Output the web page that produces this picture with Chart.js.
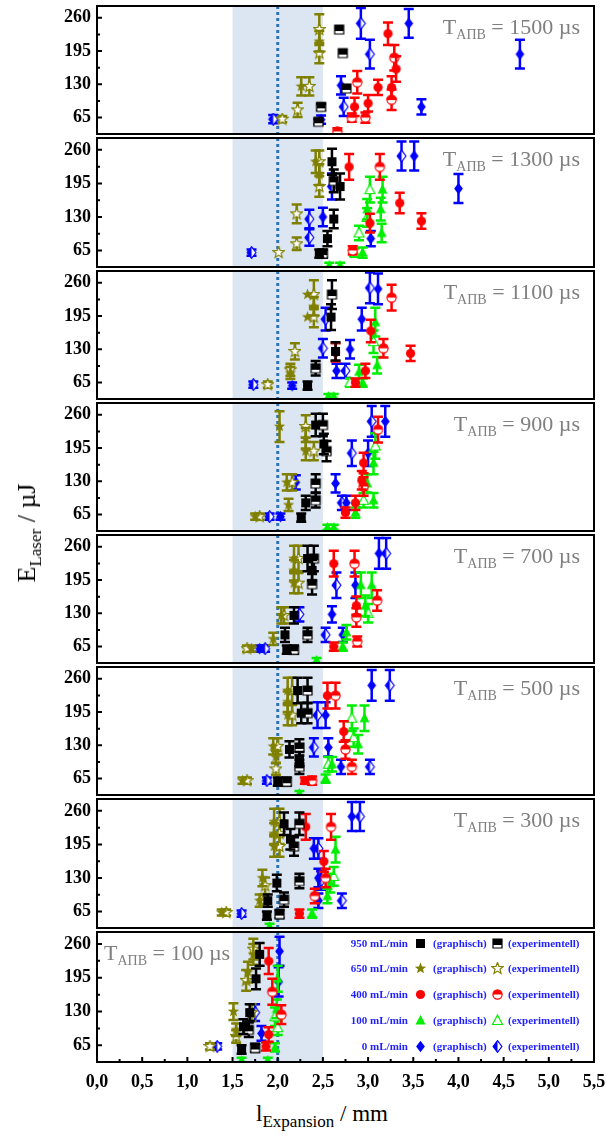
<!DOCTYPE html>
<html>
<head>
<meta charset="utf-8">
<script src="https://cdn.jsdelivr.net/npm/chart.js@4"></script>
<style>
  body { margin: 0; background: #fff; }
  #wrap { position: relative; width: 606px; height: 1142px; overflow: hidden; background: #fff; font-family: "Liberation Serif", serif; }
  canvas { position: absolute; left: 0; }
  .tlab { position: absolute; font-size: 22px; line-height: 24px; color: #7f7f7f; white-space: nowrap; }
  .tlab sub { font-size: 14px; vertical-align: -5px; line-height: 0; }
  .ttl { position: absolute; font-size: 23px; line-height: 26px; color: #000; white-space: nowrap; }
  .ttl sub { font-size: 17px; vertical-align: -6px; line-height: 0; }
  .leg { position: absolute; font-size: 11px; font-weight: bold; color: #1f1fff; white-space: nowrap; line-height: 14px; }
</style>
</head>
<body>
<div id="wrap"></div>
<script>
// points: [l_Expansion mm, E_Laser uJ, error uJ, experimentell?]
const q950_1500 = [[2.68,237,0,1],[2.72,191,0,1],[2.76,122,0,1],[2.48,86,6,1],[2.45,57,5,1]];
const q650_1500 = [[2.46,237,30,1],[2.46,214,20,0],[2.46,191,20,1],[2.26,126,18,0],[2.35,126,18,1],[2.22,80,14,1],[2.05,62,6,1]];
const q400_1500 = [[3.22,229,22,0],[3.29,182,25,1],[3.31,160,25,0],[3.26,124,22,0],[3.11,124,15,0],[3.00,93,16,0],[2.85,86,18,0],[2.88,134,22,1],[2.82,65,8,1],[2.97,65,10,1],[3.26,100,20,1],[2.66,38,6,1]];
const q100_1500 = [];
const q0_1500 = [[2.92,249,30,1],[3.02,189,28,1],[3.45,249,28,0],[4.68,189,28,0],[3.59,86,15,0],[2.70,128,18,0],[2.73,86,18,1],[2.48,61,8,0],[1.95,62,8,1]];

const q950_1300 = [[2.60,237,25,0],[2.69,189,25,0],[2.62,200,22,1],[2.62,126,18,0],[2.55,88,15,0],[2.46,59,8,0],[2.50,59,8,1]];
const q650_1300 = [[2.46,237,22,1],[2.42,237,22,0],[2.46,212,20,0],[2.46,189,20,1],[2.21,136,18,1],[2.21,78,12,1],[2.01,61,0,1]];
const q400_1300 = [[2.79,227,25,0],[3.13,227,25,1],[3.35,157,20,0],[3.59,122,15,0],[3.02,118,18,0],[2.83,65,8,1]];
const q100_1300 = [[3.02,183,25,1],[3.16,183,25,0],[2.99,145,20,0],[3.14,145,22,0],[2.99,129,18,1],[3.15,99,18,0],[2.90,99,14,1],[2.94,61,10,0],[2.85,61,8,1],[2.57,36,5,0],[2.69,36,5,0]];
const q0_1300 = [[1.71,61,6,1],[2.35,126,18,1],[2.50,130,18,0],[2.35,90,16,1],[2.60,189,25,1],[3.37,248,28,1],[3.51,248,28,0],[4.00,185,28,0],[3.03,88,15,0]];

const q950_1100 = [[2.60,237,28,1],[2.59,193,25,0],[2.64,126,18,0],[2.42,93,14,1],[2.33,59,8,0]];
const q650_1100 = [[2.40,237,28,1],[2.33,237,0,0],[2.40,214,18,0],[2.40,193,20,1],[2.33,193,0,0],[2.19,126,16,1],[2.14,84,12,0],[2.14,90,12,1],[1.89,61,6,1]];
const q400_1100 = [[3.26,231,25,1],[3.03,166,22,0],[3.17,132,18,1],[3.47,122,15,0],[2.97,88,14,0],[2.86,65,8,0],[2.64,124,18,0]];
const q100_1100 = [[3.08,183,28,0],[3.06,145,22,1],[3.10,99,16,0],[2.90,86,14,0],[2.80,65,8,1],[2.94,65,8,0],[2.56,38,5,0],[2.62,38,5,0]];
const q0_1100 = [[1.73,61,6,1],[2.16,59,6,0],[2.53,189,22,1],[2.50,132,18,1],[2.65,88,14,0],[2.80,130,18,0],[2.75,88,14,1],[2.93,189,22,0],[3.02,250,30,1],[3.11,248,30,0]];

const q950_900 = [[2.42,240,22,0],[2.50,240,22,1],[2.51,203,20,0],[2.54,189,20,1],[2.42,126,18,1],[2.31,88,14,0],[2.42,93,14,1],[2.26,59,8,0]];
const q650_900 = [[2.02,237,30,0],[2.31,237,22,1],[2.31,214,20,0],[2.31,189,18,0],[2.40,189,18,1],[2.10,128,16,0],[2.16,128,16,1],[2.12,84,12,0],[1.80,61,6,1],[1.75,61,6,0]];
const q400_900 = [[3.11,231,25,1],[2.95,166,20,0],[2.93,132,18,0],[2.86,88,14,0],[2.75,69,10,0],[2.95,120,18,1]];
const q100_900 = [[3.08,199,25,1],[3.06,166,22,0],[2.99,126,18,0],[3.06,93,14,0],[2.95,93,14,1],[2.86,69,10,0],[2.55,40,5,0],[2.62,40,5,0]];
const q0_900 = [[1.91,61,6,1],[2.03,61,6,0],[2.20,128,14,0],[2.64,126,18,0],[2.71,88,14,1],[2.76,88,14,0],[2.82,185,25,1],[3.00,185,25,0],[3.04,247,30,1],[3.19,247,30,0]];

const q950_700 = [[2.33,237,25,0],[2.40,237,25,1],[2.38,214,20,0],[2.38,187,20,1],[2.18,126,16,0],[2.08,88,14,0],[2.33,88,14,1],[2.10,59,8,0],[2.18,59,8,1]];
const q650_700 = [[2.18,237,25,0],[2.23,237,25,1],[2.18,214,20,0],[2.23,189,20,1],[2.18,189,20,0],[2.04,126,16,0],[2.07,126,16,1],[1.95,80,12,0],[1.71,61,6,0],[1.66,61,6,1]];
const q400_700 = [[2.62,227,25,0],[2.85,227,25,1],[3.10,155,20,1],[2.87,145,18,0],[2.87,122,18,1],[2.62,65,8,0],[2.88,75,10,1]];
const q100_700 = [[2.92,185,25,0],[3.04,185,25,0],[2.97,145,20,0],[3.00,130,18,1],[2.76,93,14,0],[2.72,65,8,0],[2.43,38,5,0]];
const q0_700 = [[1.86,61,6,1],[1.80,61,6,0],[2.24,128,14,1],[2.60,128,16,0],[2.53,88,14,1],[2.72,88,14,0],[2.65,185,25,1],[2.86,185,25,0],[3.12,247,30,0],[3.20,247,30,1]];

const q950_500 = [[2.22,237,25,0],[2.33,237,25,1],[2.26,193,20,0],[2.33,193,20,1],[2.13,122,16,0],[2.24,126,16,1],[2.24,103,14,0],[2.24,88,14,1],[2.00,59,8,0],[2.10,59,8,1]];
const q650_500 = [[2.11,237,25,0],[2.16,237,25,1],[2.11,215,20,0],[2.11,189,20,0],[2.16,189,20,1],[1.95,128,16,0],[2.00,128,16,1],[1.98,107,12,0],[1.98,84,12,1],[1.66,61,6,1],[1.61,61,6,0]];
const q400_500 = [[2.55,227,25,0],[2.64,227,25,1],[2.73,157,20,0],[2.75,122,18,1],[2.82,88,14,1],[2.38,61,8,1],[2.30,61,6,0]];
const q100_500 = [[2.82,183,25,1],[2.96,183,25,0],[2.89,132,18,0],[2.84,145,18,1],[2.56,93,14,1],[2.60,93,14,0],[2.53,65,8,0],[2.24,36,5,0]];
const q0_500 = [[1.88,61,6,1],[2.40,126,18,1],[2.56,126,18,0],[2.44,189,25,1],[2.53,189,25,0],[2.70,88,14,0],[3.02,88,14,1],[3.04,247,30,0],[3.24,247,30,1]];

const q950_300 = [[2.07,235,22,0],[2.24,235,22,1],[2.14,205,20,0],[2.18,191,18,1],[1.99,120,16,0],[2.24,124,14,1],[1.89,86,12,0],[2.07,88,14,1],[1.88,57,8,0],[2.02,60,8,1]];
const q650_300 = [[1.96,239,25,0],[2.02,239,25,1],[1.96,216,20,0],[2.02,216,20,1],[1.96,191,20,0],[2.02,191,20,1],[1.83,130,16,0],[1.86,115,16,1],[1.80,86,12,0],[1.84,86,12,1],[1.43,63,6,1],[1.38,63,6,0]];
const q400_300 = [[2.31,229,25,0],[2.59,229,25,1],[2.51,162,20,0],[2.53,130,18,1],[2.41,95,14,1],[2.24,61,8,0]];
const q100_300 = [[2.64,185,25,0],[2.62,133,18,1],[2.58,120,18,0],[2.55,95,14,0],[2.38,61,8,0],[1.91,36,5,0]];
const q0_300 = [[1.60,61,6,1],[2.40,187,20,0],[2.45,187,20,1],[2.45,130,18,0],[2.48,125,18,1],[2.45,86,14,0],[2.71,86,14,1],[2.82,249,28,0],[2.91,249,28,1]];

const q950_100 = [[1.80,240,22,0],[1.76,193,20,0],[1.69,128,16,0],[1.62,101,14,0],[1.60,57,8,0],[1.75,60,8,1],[1.68,95,14,1]];
const q650_100 = [[1.73,250,20,1],[1.73,240,20,0],[1.67,206,20,0],[1.65,190,20,1],[1.51,130,16,0],[1.71,128,16,1],[1.54,82,12,1],[1.54,95,12,0],[1.25,63,6,1]];
const q400_100 = [[1.90,227,25,0],[1.94,168,25,1],[2.04,124,18,1],[1.90,86,14,0],[1.87,63,8,0]];
const q100_100 = [[2.00,193,25,0],[1.99,135,18,0],[2.00,99,14,1],[1.97,61,8,0],[1.89,36,5,0],[1.60,36,5,0],[1.97,120,18,1]];
const q0_100 = [[1.33,63,6,1],[2.02,246,28,0],[2.01,187,28,0],[1.75,128,16,1],[1.82,88,14,0]];

const pulseTimes = ['1500', '1300', '1100', '900', '700', '500', '300', '100'];
const flowRates = ['950 mL/min', '650 mL/min', '400 mL/min', '100 mL/min', '0 mL/min'];
const yTicks = [65, 130, 195, 260];
const xTicks = [0, 0.5, 1, 1.5, 2, 2.5, 3, 3.5, 4, 4.5, 5, 5.5];

const panelData = [
  [q950_1500, q650_1500, q400_1500, q100_1500, q0_1500],
  [q950_1300, q650_1300, q400_1300, q100_1300, q0_1300],
  [q950_1100, q650_1100, q400_1100, q100_1100, q0_1100],
  [q950_900, q650_900, q400_900, q100_900, q0_900],
  [q950_700, q650_700, q400_700, q100_700, q0_700],
  [q950_500, q650_500, q400_500, q100_500, q0_500],
  [q950_300, q650_300, q400_300, q100_300, q0_300],
  [q950_100, q650_100, q400_100, q100_100, q0_100]
];

const colors = ['#000000', '#808000', '#ff0000', '#00ee00', '#0000ff'];
const shapes = ['rect', 'star', 'circle', 'triangle', 'diamond'];

function shapePath(g, shape) {
  g.beginPath();
  if (shape == 'rect') {
    g.rect(-4.5, -4.5, 9, 9);
  } else if (shape == 'circle') {
    g.arc(0, 0, 4.6, 0, Math.PI * 2);
  } else if (shape == 'triangle') {
    g.moveTo(0, -5.5); g.lineTo(5, 4); g.lineTo(-5, 4); g.closePath();
  } else if (shape == 'diamond') {
    g.moveTo(0, -5.8); g.lineTo(4.4, 0); g.lineTo(0, 5.8); g.lineTo(-4.4, 0); g.closePath();
  } else {
    for (let i = 0; i < 10; i++) {
      let r = i % 2 ? 2.6 : 6;
      let a = -Math.PI / 2 + i * Math.PI / 5;
      if (i == 0) g.moveTo(r * Math.cos(a), r * Math.sin(a));
      else g.lineTo(r * Math.cos(a), r * Math.sin(a));
    }
    g.closePath();
  }
}

function makeMarker(shape, color, hollow) {
  const c = document.createElement('canvas');
  c.width = 13; c.height = 13;
  const g = c.getContext('2d');
  g.translate(6.5, 6.5);
  g.lineWidth = 1.2;
  g.strokeStyle = color;
  g.fillStyle = color;
  shapePath(g, shape);
  if (!hollow) {
    g.fill();
  } else {
    g.fillStyle = '#fff';
    g.fill();
    g.save();
    g.clip();
    g.fillStyle = color;
    if (shape == 'rect') g.fillRect(-7, -7, 14, 8.5);
    if (shape == 'circle') g.fillRect(-7, -7, 14, 7);
    if (shape == 'diamond') g.fillRect(-7, -7, 7, 14);
    g.restore();
    g.stroke();
  }
  return c;
}

const markers = shapes.map((s, i) => [makeMarker(s, colors[i], false), makeMarker(s, colors[i], true)]);

const errorBars = {
  id: 'errorBars',
  beforeDatasetDraw(chart, args) {
    const ds = chart.data.datasets[args.index];
    const { ctx, chartArea: a } = chart;
    const xs = chart.scales.x, ys = chart.scales.y;
    ctx.save();
    ctx.beginPath();
    ctx.rect(a.left, a.top, a.right - a.left, a.bottom - a.top);
    ctx.clip();
    ctx.strokeStyle = ds.barColor;
    ctx.lineWidth = 2.5;
    ds.data.forEach(p => {
      if (!p.err) return;
      let px = xs.getPixelForValue(p.x);
      let y1 = ys.getPixelForValue(p.y + p.err);
      let y2 = ys.getPixelForValue(p.y - p.err);
      ctx.beginPath();
      ctx.moveTo(px, y1); ctx.lineTo(px, y2);
      ctx.moveTo(px - 5, y1); ctx.lineTo(px + 5, y1);
      ctx.moveTo(px - 5, y2); ctx.lineTo(px + 5, y2);
      ctx.stroke();
    });
    ctx.restore();
  }
};

const panelDeco = {
  id: 'panelDeco',
  beforeDatasetsDraw(chart) {
    const { ctx, chartArea: a } = chart;
    const xs = chart.scales.x;
    ctx.save();
    ctx.fillStyle = '#dce6f2';
    let x1 = xs.getPixelForValue(1.5), x2 = xs.getPixelForValue(2.5);
    ctx.fillRect(x1, a.top, x2 - x1, a.bottom - a.top);
    let xd = xs.getPixelForValue(2.0);
    ctx.strokeStyle = '#2e75b6';
    ctx.lineWidth = 3;
    ctx.setLineDash([3, 3]);
    ctx.beginPath();
    ctx.moveTo(xd, a.top); ctx.lineTo(xd, a.bottom);
    ctx.stroke();
    ctx.restore();
  },
  afterDraw(chart) {
    const { ctx, chartArea: a } = chart;
    const xs = chart.scales.x, ys = chart.scales.y;
    ctx.save();
    ctx.strokeStyle = '#000';
    ctx.lineWidth = 2;
    ctx.beginPath();
    yTicks.forEach(v => {
      let py = ys.getPixelForValue(v);
      ctx.moveTo(a.left, py); ctx.lineTo(a.left + 5, py);
      let pm = ys.getPixelForValue(v + 32.5);
      if (v < 260) { ctx.moveTo(a.left, pm); ctx.lineTo(a.left + 3, pm); }
    });
    if (chart.options.scales.x.display) {
      xTicks.forEach(v => {
        let px = xs.getPixelForValue(v);
        ctx.moveTo(px, a.bottom); ctx.lineTo(px, a.bottom - 5);
        if (v < 5.5) {
          let pm = xs.getPixelForValue(v + 0.25);
          ctx.moveTo(pm, a.bottom); ctx.lineTo(pm, a.bottom - 3);
        }
      });
    }
    ctx.stroke();
    ctx.strokeRect(a.left, a.top, a.right - a.left, a.bottom - a.top);
    ctx.restore();
  }
};

const wrap = document.getElementById('wrap');
const panelTops = [4, 136, 269, 401, 533, 665, 797, 930, 1062];
const tickFont = { family: 'Liberation Serif', size: 18, weight: 'bold' };

panelData.forEach((sets, k) => {
  const last = k == panelData.length - 1;
  const h = panelTops[k + 1] - panelTops[k];
  const cv = document.createElement('canvas');
  cv.width = 606;
  cv.height = h + 8 + (last ? 34 : 0);
  cv.style.top = (panelTops[k] - 4) + 'px';
  wrap.appendChild(cv);

  const datasets = [];
  sets.forEach((pts, i) => {
    [0, 1].forEach(exp => {
      const sel = pts.filter(p => p[3] == exp);
      if (!sel.length) return;
      datasets.push({
        label: flowRates[i] + (exp ? ' (experimentell)' : ' (graphisch)'),
        data: sel.map(p => ({ x: p[0], y: p[1], err: p[2] })),
        pointStyle: markers[i][exp],
        pointRadius: 5,
        barColor: colors[i],
        clip: 0
      });
    });
  });

  new Chart(cv, {
    type: 'scatter',
    data: { datasets: datasets },
    options: {
      responsive: false,
      animation: false,
      layout: { padding: { top: 4, bottom: last ? 0 : 4, left: 0, right: 12 } },
      plugins: { legend: { display: false }, tooltip: { enabled: false } },
      scales: {
        x: {
          type: 'linear', min: 0, max: 5.5, display: last,
          grid: { display: false, drawTicks: false },
          border: { display: false },
          afterBuildTicks: s => { s.ticks = xTicks.map(v => ({ value: v })); },
          ticks: {
            font: tickFont, color: '#000', padding: 10, maxRotation: 0, autoSkip: false,
            callback: v => Number(v).toFixed(1).replace('.', ',')
          },
          afterFit: s => {
            s.paddingLeft = 0; s.paddingRight = 0;
            s.height = last ? 38 : 0;
          }
        },
        y: {
          min: 33, max: 283,
          grid: { display: false, drawTicks: false },
          border: { display: false },
          afterBuildTicks: s => { s.ticks = yTicks.map(v => ({ value: v })); },
          ticks: { font: tickFont, color: '#000', padding: 6 },
          afterFit: s => {
            s.paddingTop = 0; s.paddingBottom = 0;
            s.width = 97;
          }
        }
      }
    },
    plugins: [panelDeco, errorBars]
  });

  const lab = document.createElement('div');
  lab.className = 'tlab';
  lab.innerHTML = 'T<sub>AΠB</sub> = ' + pulseTimes[k] + ' µs';
  lab.style.top = (panelTops[k] + 11) + 'px';
  if (last) lab.style.left = '104px';
  else lab.style.right = '26px';
  wrap.appendChild(lab);
});

// legend inside the lowest panel
const legRows = [943, 968, 994, 1020, 1046];
flowRates.forEach((r, i) => {
  const y = legRows[i] - 7;
  const t = document.createElement('div');
  t.className = 'leg';
  t.style.top = y + 'px';
  t.style.right = (606 - 408) + 'px';
  t.textContent = r;
  wrap.appendChild(t);
  [[420, 0, '(graphisch)', 433], [497, 1, '(experimentell)', 508]].forEach(c => {
    const img = document.createElement('img');
    img.src = markers[i][c[1]].toDataURL();
    img.style.position = 'absolute';
    img.style.left = (c[0] - 6.5) + 'px';
    img.style.top = (legRows[i] - 6.5) + 'px';
    wrap.appendChild(img);
    const d = document.createElement('div');
    d.className = 'leg';
    d.style.top = y + 'px';
    d.style.left = c[3] + 'px';
    d.textContent = c[2];
    wrap.appendChild(d);
  });
});

const yt = document.createElement('div');
yt.className = 'ttl';
yt.innerHTML = 'E<sub>Laser</sub> / µJ';
yt.style.left = '27px';
yt.style.top = '533px';
yt.style.fontSize = '26px';
yt.style.transform = 'translate(-50%, -50%) rotate(-90deg)';
wrap.appendChild(yt);

const xt = document.createElement('div');
xt.className = 'ttl';
xt.innerHTML = 'l<sub>Expansion</sub> / mm';
xt.style.left = '322px';
xt.style.top = '1114px';
xt.style.transform = 'translate(-50%, -50%)';
wrap.appendChild(xt);
</script>
</body>
</html>
